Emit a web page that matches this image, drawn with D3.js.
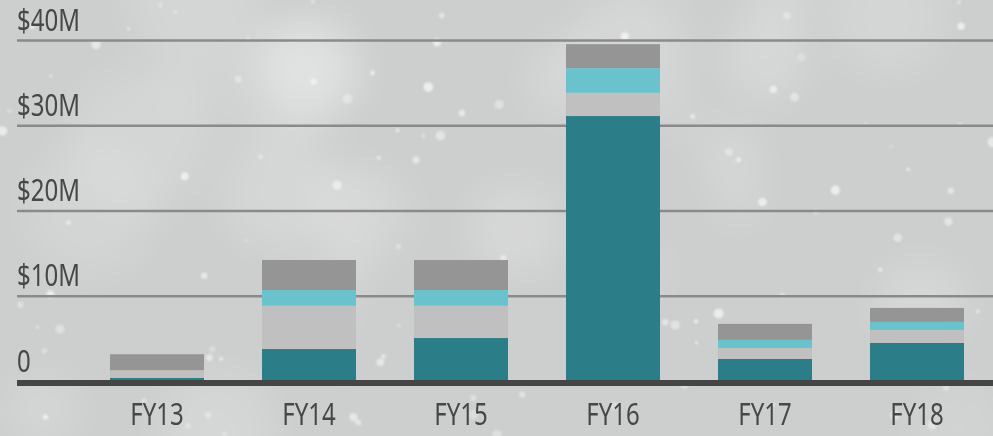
<!DOCTYPE html>
<html>
<head>
<meta charset="utf-8">
<script src="https://cdn.jsdelivr.net/npm/d3@7"></script>
<style>
  body { margin: 0; background: #cfd0d0; }
  svg { display: block; }
  .tick-label { font-family: "Noto Sans", "DejaVu Sans Condensed", sans-serif; font-size: 30px; fill: #474747; }
</style>
</head>
<body>
<script>
// chart data ($M per fiscal year, stacked bottom to top)
const years = ["FY13", "FY14", "FY15", "FY16", "FY17", "FY18"];
const seriesNames = ["teal", "lightGray", "cyan", "darkGray"];
const tealVals = [0.42, 3.81, 5.10, 31.14, 2.65, 4.53];
const lightGrayVals = [0.90, 5.08, 3.79, 2.73, 1.29, 1.52];
const cyanVals = [0.00, 1.84, 1.84, 2.89, 0.94, 0.94];
const darkGrayVals = [1.88, 3.52, 3.52, 2.81, 1.88, 1.64];
const yTicks = [0, 10, 20, 30, 40];
const yTickLabels = ["0", "$10M", "$20M", "$30M", "$40M"];

const colors = { teal: "#2b7e88", lightGray: "#c0c0c0", cyan: "#69c2cc", darkGray: "#959595" };

let width = 993, height = 436;
let svg, x, y;
const narrow = 0.8; // squeeze text to mimic a narrow face

const rows = years.map((yr, i) => ({
  year: yr,
  teal: tealVals[i],
  lightGray: lightGrayVals[i],
  cyan: cyanVals[i],
  darkGray: darkGrayVals[i]
}));

appendSvg();
drawBackground();
setupScales();
drawGrid();
drawBars();
drawBaseline();
drawXLabels();

function appendSvg() {
  svg = d3.select("body").append("svg")
    .attr("width", width)
    .attr("height", height);
}

// soft snowy backdrop (decoration only)
function drawBackground() {
  const defs = svg.append("defs");
  const blur = defs.append("filter").attr("id", "soft")
    .attr("x", "-50%").attr("y", "-50%").attr("width", "200%").attr("height", "200%");
  blur.append("feGaussianBlur").attr("stdDeviation", 18);
  const blurSmall = defs.append("filter").attr("id", "flake")
    .attr("x", "-50%").attr("y", "-50%").attr("width", "200%").attr("height", "200%");
  blurSmall.append("feGaussianBlur").attr("stdDeviation", 0.8);

  svg.append("rect").attr("width", width).attr("height", height).attr("fill", "#cdcece");

  const rnd = d3.randomLcg(0.42);
  const glow = svg.append("g").attr("filter", "url(#soft)");
  for (let i = 0; i < 26; i++) {
    glow.append("circle")
      .attr("cx", rnd() * width)
      .attr("cy", rnd() * height)
      .attr("r", 25 + rnd() * 45)
      .attr("fill", "#ffffff")
      .attr("opacity", 0.08 + rnd() * 0.12);
  }
  const flakes = svg.append("g").attr("filter", "url(#flake)");
  for (let i = 0; i < 110; i++) {
    flakes.append("circle")
      .attr("cx", rnd() * width)
      .attr("cy", rnd() * height)
      .attr("r", 1.5 + rnd() * 3.5)
      .attr("fill", "#ffffff")
      .attr("opacity", 0.25 + rnd() * 0.4);
  }
}

function setupScales() {
  x = d3.scaleBand()
    .domain(years)
    .range([81, 993])
    .paddingInner(58 / 152)
    .paddingOuter(29 / 152);

  y = d3.scaleLinear()
    .domain([0, 40])
    .range([381.5, 40.5]);
}

function drawGrid() {
  const g = svg.append("g");
  g.selectAll("line")
    .data(yTicks.filter(d => d > 0))
    .enter().append("line")
      .attr("x1", 17).attr("x2", width)
      .attr("y1", d => y(d)).attr("y2", d => y(d))
      .attr("stroke", "#8a8a8a")
      .attr("stroke-width", 2.6);

  g.selectAll("text")
    .data(yTicks)
    .enter().append("text")
      .attr("class", "tick-label")
      .attr("transform", d => `translate(17, ${y(d) - 10}) scale(${narrow}, 1)`)
      .text((d, i) => yTickLabels[i]);
}

function drawBars() {
  const stacked = d3.stack().keys(seriesNames)(rows);
  svg.append("g")
    .selectAll("g")
    .data(stacked)
    .enter().append("g")
      .attr("fill", d => colors[d.key])
    .selectAll("rect")
    .data(d => d)
    .enter().append("rect")
      .attr("x", d => x(d.data.year))
      .attr("y", d => y(d[1]))
      .attr("width", x.bandwidth())
      .attr("height", d => y(d[0]) - y(d[1]));
}

function drawBaseline() {
  svg.append("line")
    .attr("x1", 17).attr("x2", width)
    .attr("y1", y(0) + 1.5).attr("y2", y(0) + 1.5)
    .attr("stroke", "#454545")
    .attr("stroke-width", 6);
}

function drawXLabels() {
  svg.append("g")
    .selectAll("text")
    .data(years)
    .enter().append("text")
      .attr("class", "tick-label")
      .attr("text-anchor", "middle")
      .attr("transform", d => `translate(${x(d) + x.bandwidth() / 2}, 425) scale(${narrow}, 1)`)
      .text(d => d);
}
</script>
</body>
</html>
